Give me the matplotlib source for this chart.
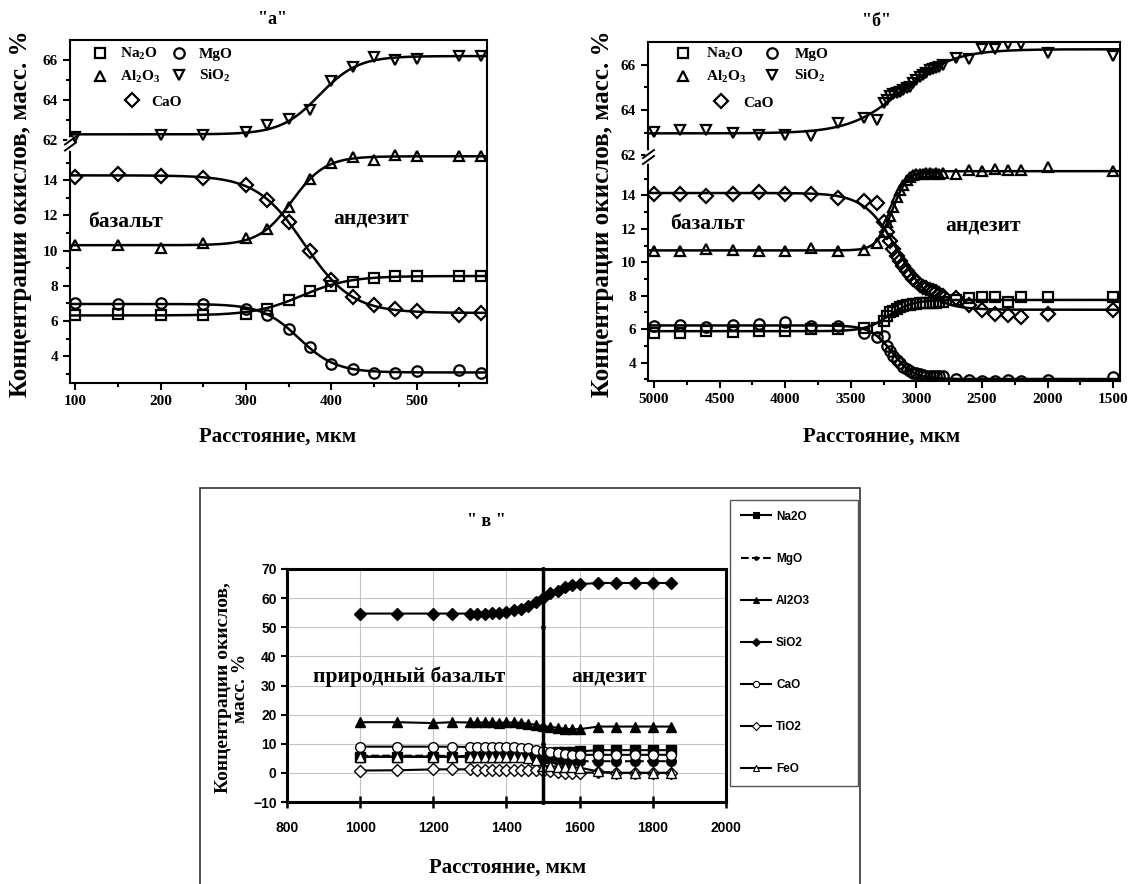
import numpy as np
import matplotlib
matplotlib.use("Agg")
import matplotlib.pyplot as plt
from matplotlib.lines import Line2D
from matplotlib.patches import Rectangle
from matplotlib.ticker import FixedLocator, MultipleLocator

plt.rcParams['font.family'] = ['Liberation Serif', 'DejaVu Serif']
plt.rcParams['font.weight'] = 'bold'
plt.rcParams['mathtext.fontset'] = 'custom'
plt.rcParams['mathtext.rm'] = 'Liberation Serif:bold'
plt.rcParams['mathtext.default'] = 'rm'

# ---------------- панель "а" ----------------
xa = [100, 150, 200, 250, 300, 325, 350, 375, 400, 425, 450, 475, 500, 550, 575]
na2o_a = [6.33, 6.39, 6.33, 6.33, 6.42, 6.71, 7.18, 7.71, 8.0, 8.19, 8.47, 8.56, 8.56, 8.56, 8.56]
mgo_a = [7.05, 6.95, 7.0, 6.94, 6.71, 6.33, 5.53, 4.53, 3.55, 3.3, 3.05, 3.07, 3.15, 3.2, 3.05]
al2o3_a = [10.31, 10.31, 10.17, 10.44, 10.69, 11.2, 12.48, 14.05, 14.95, 15.29, 15.17, 15.42, 15.36, 15.36, 15.36]
cao_a = [14.19, 14.34, 14.23, 14.13, 13.72, 12.9, 11.6, 9.98, 8.32, 7.37, 6.9, 6.71, 6.56, 6.33, 6.46]
xa_sio2 = [100, 200, 250, 300, 325, 350, 375, 400, 425, 450, 475, 500, 550, 575]
sio2_a = [62.13, 62.22, 62.22, 62.38, 62.72, 63.05, 63.5, 64.92, 65.63, 66.13, 66.0, 66.05, 66.22, 66.22]

# ---------------- панель "б" ----------------
xb = [5000, 4800, 4600, 4400, 4200, 4000, 3800, 3600, 3400, 3300,
      3250, 3225, 3200, 3175, 3150, 3125, 3100, 3075, 3050, 3025,
      3000, 2975, 2950, 2925, 2900, 2875, 2850, 2825, 2800,
      2700, 2600, 2500, 2400, 2300, 2200, 2000, 1500]
sio2_b = [63.04, 63.11, 63.14, 63.0, 62.92, 62.92, 62.84, 63.41, 63.63, 63.58,
          64.3, 64.45, 64.62, 64.7, 64.74, 64.8, 64.9, 64.95, 65.0, 65.2,
          65.33, 65.45, 65.56, 65.65, 65.78, 65.8, 65.85, 65.9, 66.0,
          66.3, 66.25, 66.7, 66.7, 66.9, 66.9, 66.52, 66.37]
al2o3_b = [10.69, 10.69, 10.8, 10.73, 10.69, 10.69, 10.84, 10.69, 10.76, 11.16,
           11.8, 12.4, 12.8, 13.3, 13.9, 14.3, 14.6, 14.9, 15.1, 15.2,
           15.3, 15.3, 15.3, 15.35, 15.35, 15.3, 15.35, 15.3, 15.35,
           15.3, 15.5, 15.45, 15.6, 15.5, 15.5, 15.7, 15.45]
cao_b = [14.1, 14.1, 13.96, 14.1, 14.22, 14.1, 14.1, 13.86, 13.65, 13.55,
         12.43, 11.8, 11.3, 10.8, 10.4, 10.1, 9.8, 9.5, 9.27, 9.0,
         8.86, 8.65, 8.55, 8.45, 8.35, 8.3, 8.2, 8.1, 7.98,
         7.84, 7.47, 7.12, 6.92, 6.82, 6.71, 6.92, 7.12]
na2o_b = [5.8, 5.8, 5.9, 5.86, 5.9, 5.9, 6.0, 6.0, 6.1, 6.1,
          6.5, 6.8, 7.0, 7.1, 7.2, 7.3, 7.37, 7.43, 7.43, 7.53,
          7.53, 7.55, 7.55, 7.57, 7.57, 7.57, 7.57, 7.6, 7.6,
          7.73, 7.84, 7.94, 7.9, 7.63, 7.94, 7.9, 7.94]
mgo_b = [6.2, 6.24, 6.14, 6.27, 6.31, 6.41, 6.2, 6.2, 5.8, 5.53,
         5.6, 4.98, 4.67, 4.37, 4.16, 3.96, 3.76, 3.61, 3.49, 3.39,
         3.35, 3.29, 3.24, 3.2, 3.2, 3.2, 3.2, 3.2, 3.2,
         3.0, 2.94, 2.9, 2.9, 2.94, 2.9, 2.94, 3.14]

# ---------------- панель "в" ----------------
xc = [1000, 1100, 1200, 1250, 1300, 1320, 1340, 1360, 1380, 1400, 1420, 1440, 1460,
      1480, 1500, 1520, 1540, 1560, 1580, 1600, 1650, 1700, 1750, 1800, 1850]
na2o_c = [5.5, 5.5, 5.5, 5.5, 5.5, 5.5, 5.5, 5.5, 5.6, 5.6, 5.7, 5.8, 6.0,
          6.2, 6.5, 6.8, 7.0, 7.2, 7.3, 7.4, 7.8, 7.8, 7.8, 7.8, 7.8]
mgo_c = [5.9, 5.9, 5.9, 5.8, 5.8, 5.8, 5.8, 5.8, 5.7, 5.7, 5.6, 5.4, 5.2,
         5.0, 4.8, 4.6, 4.4, 4.2, 4.1, 4.0, 4.0, 4.0, 4.0, 4.0, 4.0]
al2o3_c = [17.4, 17.4, 17.1, 17.4, 17.3, 17.3, 17.3, 17.3, 17.2, 17.3, 17.3, 17.2, 16.8,
           16.6, 16.0, 15.8, 15.5, 15.1, 15.0, 15.0, 15.9, 15.9, 15.9, 15.9, 15.9]
sio2_c = [54.7, 54.7, 54.7, 54.7, 54.7, 54.7, 54.7, 54.8, 55.0, 55.2, 55.8, 56.3, 57.3,
          58.5, 60.2, 61.8, 62.5, 63.9, 64.5, 64.8, 65.2, 65.2, 65.2, 65.2, 65.2]
cao_c = [9.0, 9.0, 9.0, 9.0, 8.9, 8.9, 8.9, 8.9, 8.9, 8.9, 8.9, 8.6, 8.4,
         8.0, 7.6, 7.2, 6.8, 6.5, 6.2, 6.2, 6.2, 6.2, 6.2, 6.2, 6.2]
tio2_c = [0.8, 0.9, 1.2, 1.2, 1.2, 1.1, 1.0, 1.0, 1.0, 1.0, 1.0, 1.0, 1.0,
          0.9, 0.8, 0.5, 0.3, 0.1, 0.0, 0.0, 0.2, 0.0, 0.0, 0.0, 0.0]
feo_c = [5.6, 5.6, 5.6, 5.6, 5.6, 5.6, 5.6, 5.6, 5.6, 5.6, 5.5, 5.4, 5.2,
         4.5, 2.5, 2.3, 2.1, 2.0, 1.9, 1.8, 0.5, 0.0, 0.0, 0.0, 0.0]
border_x = 1500
border_y = [-10, 10, 50, 70]

W, H = 1130, 884
fig = plt.figure(figsize=(W / 100, H / 100), dpi=100)


def box(l, t, r, b):
    return [l / W, 1 - b / H, (r - l) / W, (b - t) / H]


def boltzmann(x, y, xgrid):
    # подгонка сигмоидой Больцмана (как в Origin) по точкам
    x = np.asarray(x, float)
    y = np.asarray(y, float)
    span = x.max() - x.min()
    x0 = np.linspace(x.min(), x.max(), 300)[:, None, None]
    w = np.linspace(span / 300, span / 3, 150)[None, :, None]
    s = 0.5 * (1 - np.tanh((x[None, None, :] - x0) / (2 * w)))
    t = 1 - s
    a, b, c = (s * s).sum(-1), (s * t).sum(-1), (t * t).sum(-1)
    d1, d2 = (s * y).sum(-1), (t * y).sum(-1)
    det = a * c - b * b
    det[np.abs(det) < 1e-12] = np.nan
    A1 = (d1 * c - d2 * b) / det
    A2 = (a * d2 - b * d1) / det
    err = ((A1[..., None] * s + A2[..., None] * t - y) ** 2).sum(-1)
    i, j = np.unravel_index(np.nanargmin(err), err.shape)
    sg = 0.5 * (1 - np.tanh((xgrid - x0[i, 0, 0]) / (2 * w[0, j, 0])))
    return A1[i, j] * sg + A2[i, j] * (1 - sg)


def break_marks(xpx, ypx):
    fig.add_artist(Line2D([xpx / W] * 2, [1 - (ypx - 4) / H, 1 - (ypx + 4) / H],
                          color='white', lw=4, transform=fig.transFigure, zorder=10))
    for dy in (-3, 3):
        fig.add_artist(Line2D([(xpx - 5) / W, (xpx + 6) / W],
                              [1 - (ypx + dy + 4) / H, 1 - (ypx + dy - 4) / H],
                              color='black', lw=1.4, transform=fig.transFigure, zorder=11))


mk = dict(ls='none', mfc='none', mec='black', mew=1.6, ms=7.5, clip_on=True)
symbols = {'Na$_2$O': 's', 'MgO': 'o', 'Al$_2$O$_3$': '^', 'SiO$_2$': 'v', 'CaO': 'D'}


def style_axes(ax):
    for s in ax.spines.values():
        s.set_linewidth(1.5)
    ax.tick_params(which='both', direction='out', width=1.5, right=False, top=False,
                   labelsize=11)
    ax.tick_params(which='major', length=5)
    ax.tick_params(which='minor', length=3)


def panel(l, t, r, b, ybrk, xlim, ylim_up, ylim_lo, xmajor, xminor,
          x, low_series, xs, sio2, leg):
    ax_up = fig.add_axes(box(l, t, r, ybrk))
    ax_lo = fig.add_axes(box(l, ybrk, r, b))
    for ax in (ax_up, ax_lo):
        style_axes(ax)
        ax.set_xlim(*xlim)
    ax_up.set_ylim(*ylim_up)
    ax_lo.set_ylim(*ylim_lo)
    ax_up.spines['bottom'].set_visible(False)
    ax_lo.spines['top'].set_visible(False)
    ax_up.tick_params(which='both', bottom=False, labelbottom=False)
    ax_up.yaxis.set_major_locator(FixedLocator([62, 64, 66]))
    ax_up.yaxis.set_minor_locator(FixedLocator([63, 65]))
    ax_lo.yaxis.set_major_locator(FixedLocator([4, 6, 8, 10, 12, 14]))
    ax_lo.yaxis.set_minor_locator(FixedLocator([3, 5, 7, 9, 11, 13, 15]))
    ax_lo.xaxis.set_major_locator(FixedLocator(xmajor))
    ax_lo.xaxis.set_minor_locator(FixedLocator(xminor))

    xg = np.linspace(min(xlim), max(xlim), 600)
    handles = {}
    for name, y in low_series:
        ax_lo.plot(xg, boltzmann(x, y, xg), color='black', lw=1.8)
        handles[name], = ax_lo.plot(x, y, marker=symbols[name], **mk)
    ax_up.plot(xg, boltzmann(xs, sio2, xg), color='black', lw=1.8)
    handles['SiO$_2$'], = ax_up.plot(xs, sio2, marker=symbols['SiO$_2$'], **mk)

    hpx, vpx = r - l, ybrk - t
    order = ['Na$_2$O', 'Al$_2$O$_3$', 'MgO', 'SiO$_2$']
    lg1 = ax_up.legend([handles[k] for k in order], order, ncol=2, loc='upper left',
                       bbox_to_anchor=(leg[0] / hpx, 1 - leg[1] / vpx), frameon=False,
                       fontsize=11, borderpad=0, borderaxespad=0, handlelength=1.0,
                       handletextpad=leg[4], columnspacing=leg[5], labelspacing=0.45)
    ax_up.add_artist(lg1)
    ax_up.legend([handles['CaO']], ['CaO'], loc='upper left',
                 bbox_to_anchor=(leg[2] / hpx, 1 - leg[3] / vpx), frameon=False,
                 fontsize=11, borderpad=0, borderaxespad=0, handlelength=1.0,
                 handletextpad=leg[4])
    break_marks(l, ybrk)
    return ax_up, ax_lo


# панель "а"
ua, la = panel(70, 40, 487, 383, 143.5, (93.8, 582.6), (61.8, 67.0), (2.48, 16.08),
               [100, 200, 300, 400, 500], [150, 250, 350, 450, 550],
               xa, [('Na$_2$O', na2o_a), ('MgO', mgo_a), ('Al$_2$O$_3$', al2o3_a),
                    ('CaO', cao_a)], xa_sio2, sio2_a,
               (22, 6, 54, 55, 0.8, 0.75))
la.text(159, 11.6, 'базальт', fontsize=15.5, ha='center', va='center')
la.text(447, 11.8, 'андезит', fontsize=15.5, ha='center', va='center')
fig.text(272 / W, 1 - 20 / H, '"а"', fontsize=13, ha='center', va='center')
fig.text(278 / W, 1 - 437 / H, 'Расстояние, мкм', fontsize=15, ha='center', va='center')
fig.text(21 / W, 1 - 214 / H, 'Концентрации окислов, масс. %', fontsize=18,
         rotation=90, ha='center', va='center')

# панель "б"
ub, lb = panel(648, 42, 1120, 381, 157, (5045, 1449), (61.93, 67.0), (2.9, 16.3),
               [5000, 4500, 4000, 3500, 3000, 2500, 2000, 1500],
               [4750, 4250, 3750, 3250, 2750, 2250, 1750],
               xb, [('Na$_2$O', na2o_b), ('MgO', mgo_b), ('Al$_2$O$_3$', al2o3_b),
                    ('CaO', cao_b)], xb, sio2_b,
               (27, 4, 65, 54, 1.0, 1.2))
lb.text(4591, 12.27, 'базальт', fontsize=15.5, ha='center', va='center')
lb.text(2494, 12.18, 'андезит', fontsize=15.5, ha='center', va='center')
fig.text(876 / W, 1 - 22 / H, '"б"', fontsize=13, ha='center', va='center')
fig.text(882 / W, 1 - 437 / H, 'Расстояние, мкм', fontsize=15, ha='center', va='center')
fig.text(603 / W, 1 - 214 / H, 'Концентрации окислов, масс. %', fontsize=18,
         rotation=90, ha='center', va='center')

# панель "в" (Excel)
fig.add_artist(Rectangle((200 / W, -0.01), 660 / W, 1 - 488 / H + 0.01, fill=False,
                         ec='#333333', lw=1.2, transform=fig.transFigure))
axc = fig.add_axes(box(287, 569, 726, 802))
axc.set_xlim(800, 2000)
axc.set_ylim(-10, 70)
axc.xaxis.set_major_locator(MultipleLocator(200))
axc.yaxis.set_major_locator(MultipleLocator(10))
axc.grid(True, color='#c4c4c4', lw=0.8)
axc.set_axisbelow(True)
for s in axc.spines.values():
    s.set_linewidth(2.2)
axc.tick_params(axis='x', direction='inout', length=8, width=1.8, labelsize=10,
                labelfontfamily='Liberation Sans', pad=10)
axc.tick_params(axis='y', direction='out', length=4, width=1.5, labelsize=10,
                labelfontfamily='Liberation Sans')

ms_c = 7
series_c = [
    ('Na2O', na2o_c, dict(marker='s', mfc='black', ls='-')),
    ('MgO', mgo_c, dict(marker='o', mfc='black', ls='--')),
    ('Al2O3', al2o3_c, dict(marker='^', mfc='black', ls='-')),
    ('SiO2', sio2_c, dict(marker='D', mfc='black', ls='-', ms=6)),
    ('CaO', cao_c, dict(marker='o', mfc='white', ls='-')),
    ('TiO2', tio2_c, dict(marker='D', mfc='white', ls='-', ms=6)),
    ('FeO', feo_c, dict(marker='^', mfc='white', ls='-')),
]
leg_sizes = {'Na2O': 4, 'MgO': 2.5, 'Al2O3': 4.5, 'SiO2': 4, 'CaO': 4.5, 'TiO2': 4, 'FeO': 4.5}
leg_handles = []
for name, y, st in series_c:
    st = dict(st)
    ms = st.pop('ms', ms_c)
    axc.plot(xc, y, color='black', lw=1.5, mec='black', mew=1.0, ms=ms, **st)
    leg_handles.append(Line2D([], [], color='black', lw=1.5, mec='black', mew=0.8,
                              ms=leg_sizes[name], **st))
axc.plot([border_x] * len(border_y), border_y, color='black', lw=2.5, marker='o', ms=2.5,
         clip_on=False)

fig.legend(leg_handles, [s[0] for s in series_c], loc='upper left',
           bbox_to_anchor=(730 / W, 1 - 800 / H, 128 / W, 300 / H), mode='expand',
           frameon=True, fancybox=False, edgecolor='#555555', framealpha=1,
           prop={'family': 'Liberation Sans', 'weight': 'bold', 'size': 8.5},
           labelspacing=2.55, handlelength=2.6, handletextpad=0.4, borderpad=0.9,
           borderaxespad=0)

axc.text(1135, 33, 'природный базальт', fontsize=15.5, ha='center', va='center')
axc.text(1680, 33, 'андезит', fontsize=15.5, ha='center', va='center')
fig.text(486 / W, 1 - 522 / H, '" в "', fontsize=13, ha='center', va='center')
fig.text(508 / W, 1 - 868 / H, 'Расстояние, мкм', fontsize=15, ha='center', va='center')
fig.text(232 / W, 1 - 688 / H, 'Концентрации окислов,\nмасс. %', fontsize=14,
         rotation=90, ha='center', va='center', multialignment='center', linespacing=1.0)

fig.savefig('out.png', dpi=100)
